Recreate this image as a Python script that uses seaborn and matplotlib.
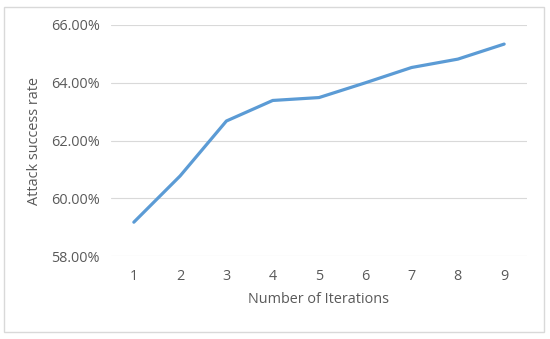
import matplotlib
matplotlib.use("Agg")
import matplotlib.pyplot as plt
import seaborn as sns
import pandas as pd
from matplotlib.ticker import FuncFormatter
from matplotlib.patches import Rectangle

iterations = [1, 2, 3, 4, 5, 6, 7, 8, 9]
success_rate = [59.18, 60.78, 62.68, 63.39, 63.49, 64.00, 64.53, 64.82, 65.34]
y_ticks = [58, 60, 62, 64, 66]

df = pd.DataFrame({"Number of Iterations": iterations, "Attack success rate": success_rate})

sns.set_theme(style="white")
plt.rcParams["font.family"] = ["Open Sans", "DejaVu Sans"]

W, H = 550, 339
fig = plt.figure(figsize=(W / 100, H / 100), dpi=100)
ax = fig.add_axes([110.7 / W, 1 - 256.3 / H, (527.3 - 110.7) / W, (256.3 - 25) / H])

sns.lineplot(data=df, x="Number of Iterations", y="Attack success rate", ax=ax,
             color="#5B9BD5", linewidth=2.3, zorder=3)

ax.set_xlim(0.5, 9.5)
ax.set_ylim(58, 66)
ax.set_xticks(iterations)
ax.set_yticks(y_ticks)
ax.yaxis.set_major_formatter(FuncFormatter(lambda v, p: f"{v:.2f}%"))
ax.grid(axis="y", color="#D9D9D9", linewidth=0.8)
ax.grid(axis="x", visible=False)
for s in ax.spines.values():
    s.set_visible(False)
ax.tick_params(axis="both", length=0, labelsize=10.4, labelcolor="#595959")
ax.tick_params(axis="y", pad=8)
ax.tick_params(axis="x", pad=9)
ax.set_xlabel("Number of Iterations", fontsize=10.4, color="#595959", labelpad=6)
ax.set_ylabel("Attack success rate", fontsize=10.4, color="#595959", labelpad=6)

fig.patches.append(Rectangle((4 / W, 1 - 332 / H), 540 / W, 325 / H, transform=fig.transFigure,
                             fill=False, edgecolor="#D9D9D9", linewidth=1.0))

fig.savefig("out.png", dpi=100, facecolor="white")
